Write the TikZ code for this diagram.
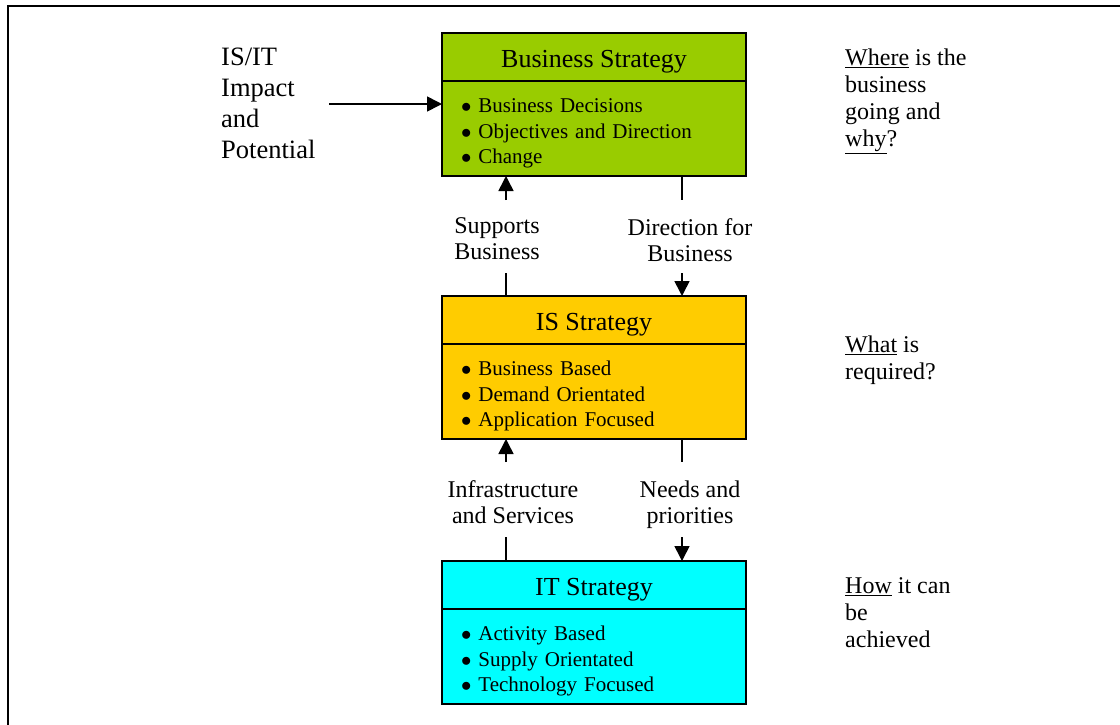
\documentclass[tikz,border=0pt]{standalone}
\usepackage{fontspec}
\setmainfont{Liberation Serif}
\usetikzlibrary{positioning}
\usetikzlibrary{arrows.meta}

\definecolor{bsgreen}{HTML}{99CC00}
\definecolor{isyellow}{HTML}{FFCC00}
\definecolor{itcyan}{HTML}{00FFFF}

% list bullet, a little heavier than the text one
\newcommand{\itembul}{$\bullet$\ }

\tikzset{
	head/.style={draw, line width=1.5pt, outer sep=0pt, inner sep=0pt,
		minimum width=304pt, minimum height=48pt,
		text height=20pt, text depth=0pt, font=\fontsize{26}{28}\selectfont},
	body/.style={draw, line width=1.5pt, outer sep=0pt, inner xsep=19pt, inner ysep=0pt,
		minimum width=304pt, minimum height=95pt, text width=266pt, align=left,
		text height=14pt, text depth=46pt, font=\fontsize{21}{25.6}\selectfont},
	lbl/.style={align=center, inner sep=0pt, font=\fontsize{24}{26}\selectfont},
	note/.style={align=left, inner sep=0pt, anchor=north west, font=\fontsize{24}{27}\selectfont},
	flow/.style={line width=1.6pt, -{Triangle[width=15pt,length=15pt]}},
	link/.style={line width=1.6pt},
}

\begin{document}
\begin{tikzpicture}[x=1pt, y=-1pt]
	
	\useasboundingbox (0,0) rectangle (1120,724);
	
	% outer frame, runs off the page to the right and bottom
	\draw[line width=1.6pt] (8,6) rectangle (1140,745);
	
	% the three strategy boxes: a title part and a list part each
	\node[head, fill=bsgreen] (bushead) at (594,57) {Business Strategy};
	\node[body, fill=bsgreen, below=0pt of bushead] (busbody)
		{\itembul Business Decisions\\ \itembul Objectives and Direction\\ \itembul Change};
	
	\node[head, fill=isyellow] (ishead) at (594,320) {IS Strategy};
	\node[body, fill=isyellow, below=0pt of ishead] (isbody)
		{\itembul Business Based\\ \itembul Demand Orientated\\ \itembul Application Focused};
	
	\node[head, fill=itcyan] (ithead) at (594,585) {IT Strategy};
	\node[body, fill=itcyan, below=0pt of ithead] (itbody)
		{\itembul Activity Based\\ \itembul Supply Orientated\\ \itembul Technology Focused};
	
	% labels between the boxes
	\node[lbl] (supbus) at (497,239) {Supports\\Business};
	\node[lbl] (dirbus) at (690,240) {Direction for\\Business};
	\node[lbl] (infserv) at (513,502) {Infrastructure\\and Services};
	\node[lbl] (needs) at (690,505) {Needs and\\priorities};
	
	% left input and right hand notes
	\node[note, font=\fontsize{26.5}{31}\selectfont] (impact) at (221,48) {IS/IT\\Impact\\and\\Potential};
	\node[note] (where) at (845,49) {\underline{Where} is the\\business\\going and\\\underline{why}?};
	\node[note] (what) at (845,336) {\underline{What} is\\required?};
	\node[note] (how) at (845,577) {\underline{How} it can\\be\\achieved};
	
	% x positions of the up and down links
	\coordinate (upx) at (506,0);
	\coordinate (dnx) at (682,0);
	\coordinate (impout) at (329,104);
	
	%%%%%%%%%%%%%%%%%%%%%%%%%%%%%%%%%%%%%%%%%%%%%%%%%%%%%%%%%%%%%%
	\draw[flow] (impout) -- (impout -| busbody.west);
	
	% IS <-> Business
	\draw[link] (ishead.north -| upx) -- ++(0,-23);
	\draw[flow] (busbody.south -| upx) ++(0,24) -- (busbody.south -| upx);
	\draw[link] (busbody.south -| dnx) -- ++(0,24);
	\draw[flow] (ishead.north -| dnx) ++(0,-23) -- (ishead.north -| dnx);
	
	% IT <-> IS
	\draw[link] (ithead.north -| upx) -- ++(0,-24);
	\draw[flow] (isbody.south -| upx) ++(0,23) -- (isbody.south -| upx);
	\draw[link] (isbody.south -| dnx) -- ++(0,23);
	\draw[flow] (ithead.north -| dnx) ++(0,-24) -- (ithead.north -| dnx);
	
\end{tikzpicture}
\end{document}
